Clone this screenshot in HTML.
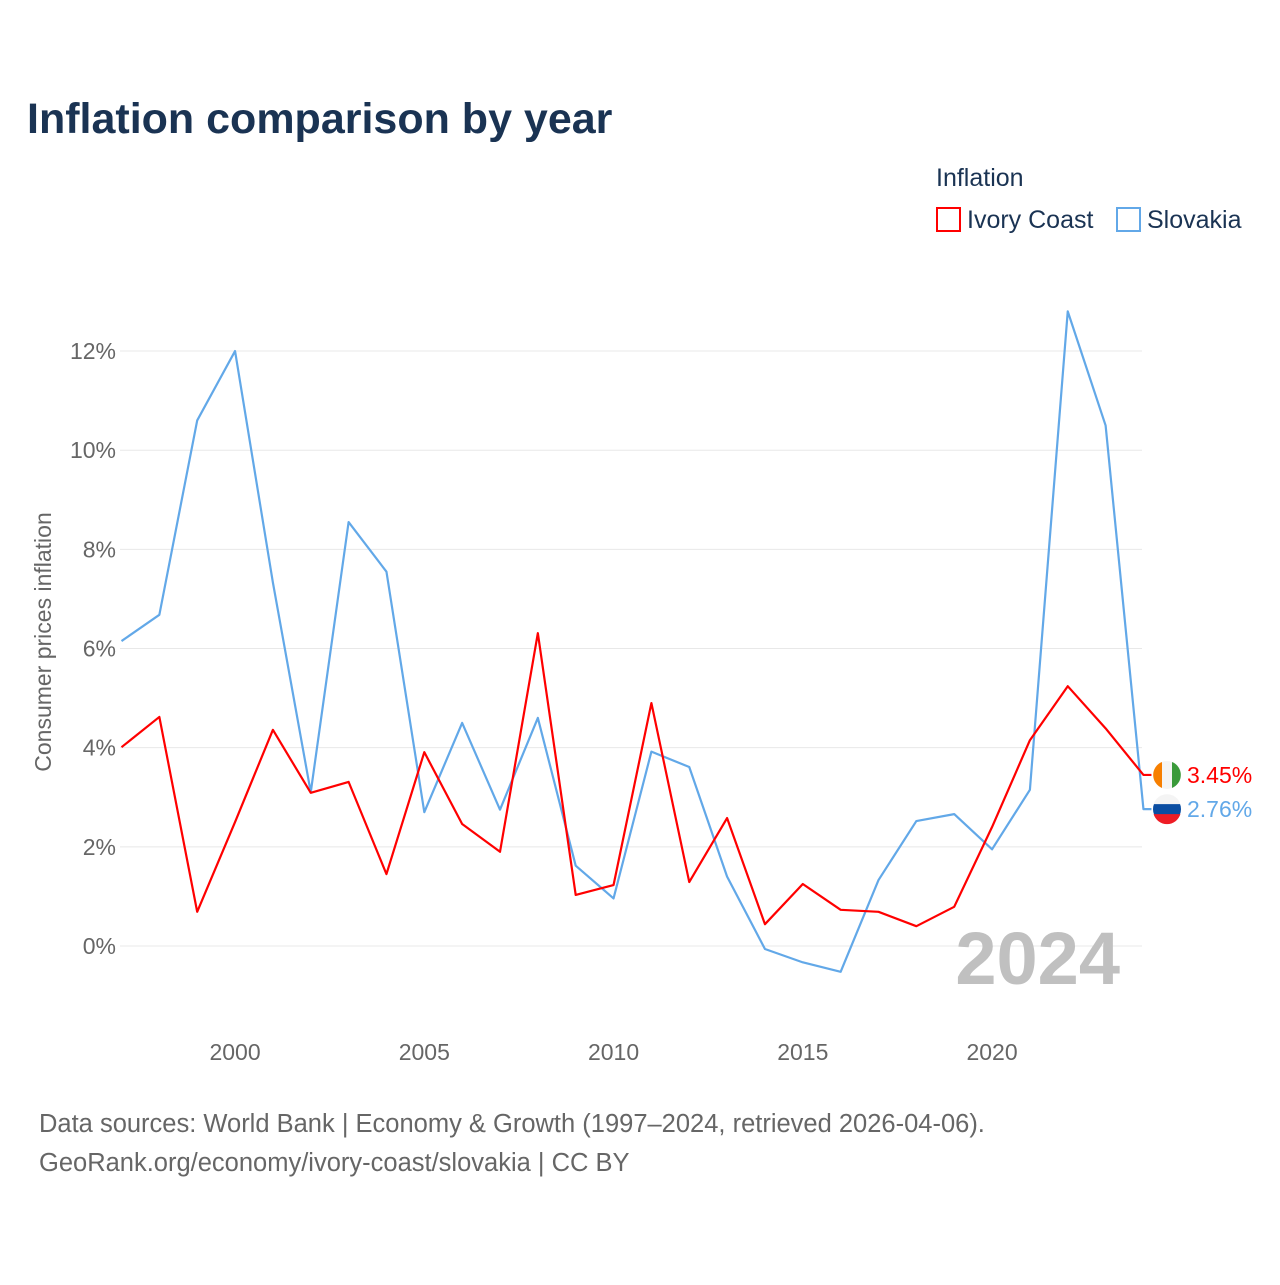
<!DOCTYPE html>
<html><head><meta charset="utf-8"><style>
body{margin:0;background:#fff;width:1280px;height:1280px;overflow:hidden;font-family:"Liberation Sans",sans-serif}
</style></head><body>
<svg width="1280" height="1280" xmlns="http://www.w3.org/2000/svg">
<text x="27" y="133" font-size="43" font-weight="bold" fill="#1a3353">Inflation comparison by year</text>
<g>
<text x="936" y="186" font-size="25" fill="#1a3353">Inflation</text>
<g><rect x="937" y="208" width="23" height="23" fill="none" stroke="#f00" stroke-width="2"/><text x="967" y="228" font-size="25" fill="#1a3353">Ivory Coast</text></g>
<g><rect x="1117" y="208" width="23" height="23" fill="none" stroke="#62a8e8" stroke-width="2"/><text x="1147" y="228" font-size="25" fill="#1a3353">Slovakia</text></g>
</g>
<g id="grid"></g>
<g id="yt"></g>
<g id="xt"></g>
<text transform="translate(51,642) rotate(-90)" text-anchor="middle" font-size="23" fill="#666">Consumer prices inflation</text>
<text x="1120" y="984" text-anchor="end" font-size="74" font-weight="bold" fill="#c0c0c0">2024</text>
<g id="series"></g>
<g id="ends"></g>
<text x="39" y="1132" font-size="25.5" fill="#666">Data sources: World Bank | Economy &amp; Growth (1997–2024, retrieved 2026-04-06).</text>
<text x="39" y="1171" font-size="25.5" fill="#666">GeoRank.org/economy/ivory-coast/slovakia | CC BY</text>
</svg>
<script>
const years=[1997,1998,1999,2000,2001,2002,2003,2004,2005,2006,2007,2008,2009,2010,2011,2012,2013,2014,2015,2016,2017,2018,2019,2020,2021,2022,2023,2024];
const ivoryCoast=[4.01,4.62,0.69,2.5,4.36,3.09,3.31,1.45,3.91,2.46,1.9,6.31,1.03,1.23,4.9,1.29,2.58,0.44,1.25,0.73,0.69,0.4,0.79,2.4,4.15,5.24,4.39,3.45];
const slovakia=[6.15,6.68,10.6,12.0,7.33,3.1,8.55,7.55,2.7,4.5,2.75,4.6,1.62,0.96,3.92,3.61,1.4,-0.06,-0.33,-0.52,1.33,2.52,2.66,1.95,3.15,12.8,10.5,2.76];
const yTicks=[0,2,4,6,8,10,12];
const xTicks=[2000,2005,2010,2015,2020];
const X=y=>121.5+(y-1997)*37.85;
const Y=v=>946-v*49.58;
const NS="http://www.w3.org/2000/svg";
function mk(t,a,p){const e=document.createElementNS(NS,t);for(const k in a)e.setAttribute(k,a[k]);p.appendChild(e);return e;}
const grid=document.getElementById('grid'),yt=document.getElementById('yt'),xt=document.getElementById('xt');
yTicks.forEach(v=>{
 const l=mk('line',{x1:120,x2:1142,y1:Y(v),y2:Y(v),stroke:'#e8e8e8','stroke-width':1},grid);
 
 
 const t=mk('text',{x:116,y:Y(v)+8,'text-anchor':'end','font-size':23,fill:'#666'},yt);t.textContent=v+'%';
 
 
});
xTicks.forEach(v=>{
 const t=mk('text',{x:X(v),y:1060,'text-anchor':'middle','font-size':23,fill:'#666'},xt);t.textContent=v;
 
 
});
const s=document.getElementById('series');
function line(vals,col,name){
 const p=mk('polyline',{points:vals.map((v,i)=>X(years[i])+','+Y(v)).join(' ')+' '+(X(2024)+8)+','+Y(vals[vals.length-1]),fill:'none',stroke:col,'stroke-width':2.2,'stroke-linejoin':'round'},s);
 
 
}
line(slovakia,'#62a8e8','line-slovakia');
line(ivoryCoast,'#f00','line-ivory-coast');
const ends=document.getElementById('ends');
function endLabel(v,col,name,flag){
 const g=mk('g',{},ends);
 
 
 const cy=Y(v);
 if(flag==='ci'){
  mk('circle',{cx:1167,cy:cy,r:14,fill:'#f4f4f4'},g);
  mk('path',{d:`M1162,${cy-13} A14,14 0 0 0 1162,${cy+13} Z`,fill:'#f77f00'},g);
  mk('path',{d:`M1172,${cy-13} A14,14 0 0 1 1172,${cy+13} Z`,fill:'#3a9a3a'},g);
 } else {
  mk('circle',{cx:1167,cy:cy,r:14,fill:'#0b4ea2'},g);
  mk('path',{d:`M1153.6,${cy-5} A14,14 0 0 1 1180.4,${cy-5} Z`,fill:'#f4f4f4'},g);
  mk('path',{d:`M1153.6,${cy+5} A14,14 0 0 0 1180.4,${cy+5} Z`,fill:'#ee1c25'},g);
 }
 const t=mk('text',{x:1187,y:cy+8,'font-size':23,fill:col},g);t.textContent=v.toFixed(2)+'%';
}
endLabel(ivoryCoast[ivoryCoast.length-1],'#f00','end-label-ivory-coast','ci');
endLabel(slovakia[slovakia.length-1],'#62a8e8','end-label-slovakia','sk');
</script>
</body></html>
